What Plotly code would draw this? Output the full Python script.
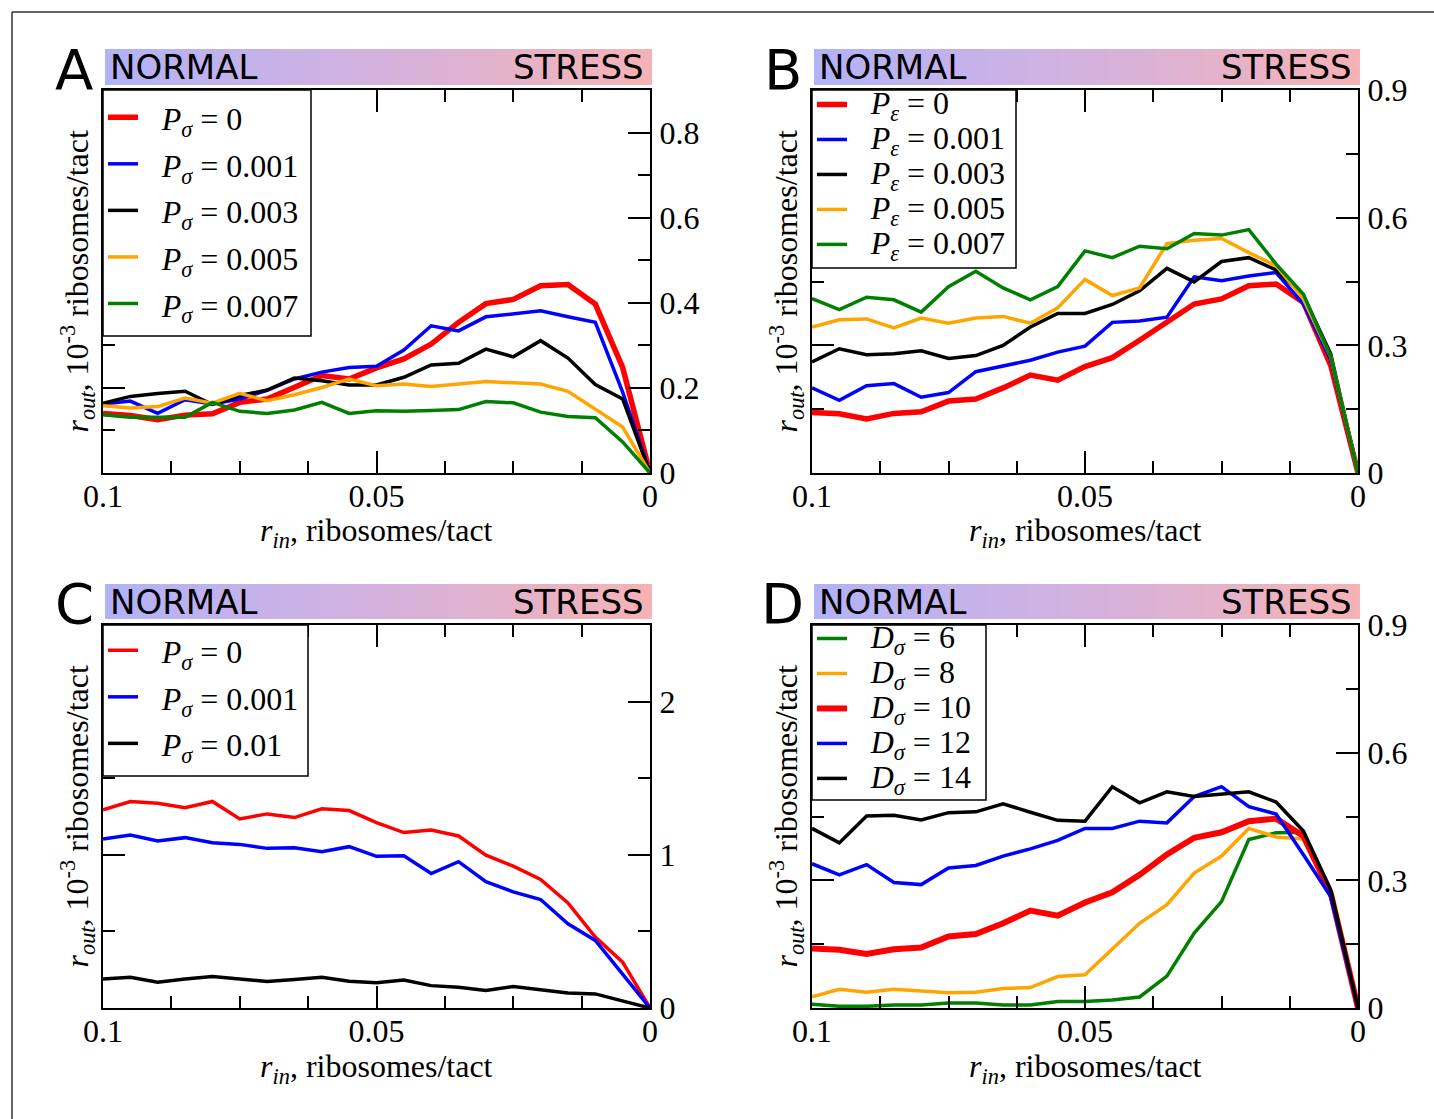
import plotly.graph_objects as go

# ---------------- data ----------------
R_IN = [0.100, 0.095, 0.090, 0.085, 0.080, 0.075, 0.070, 0.065, 0.060, 0.055, 0.050,
        0.045, 0.040, 0.035, 0.030, 0.025, 0.020, 0.015, 0.010, 0.005, 0.000]

A_LABELS = ["0", "0.001", "0.003", "0.005", "0.007"]
A_red = [0.140, 0.135, 0.125, 0.136, 0.139, 0.166, 0.174, 0.200, 0.229, 0.221, 0.247,
         0.268, 0.303, 0.354, 0.398, 0.408, 0.440, 0.443, 0.397, 0.248, 0.0]
A_blue = [0.162, 0.169, 0.140, 0.172, 0.162, 0.174, 0.194, 0.221, 0.237, 0.248, 0.251,
          0.289, 0.346, 0.334, 0.367, 0.375, 0.381, 0.367, 0.354, 0.190, 0.0]
A_black = [0.164, 0.180, 0.187, 0.192, 0.161, 0.182, 0.195, 0.223, 0.217, 0.207, 0.207,
           0.225, 0.254, 0.258, 0.291, 0.273, 0.311, 0.270, 0.208, 0.174, 0.0]
A_orange = [0.158, 0.153, 0.156, 0.176, 0.164, 0.187, 0.170, 0.184, 0.201, 0.221, 0.205,
            0.209, 0.203, 0.209, 0.215, 0.212, 0.209, 0.192, 0.151, 0.108, 0.0]
A_green = [0.137, 0.131, 0.131, 0.131, 0.166, 0.145, 0.140, 0.148, 0.166, 0.140, 0.146,
           0.145, 0.147, 0.149, 0.168, 0.165, 0.143, 0.133, 0.130, 0.073, 0.0]

B_LABELS = ["0", "0.001", "0.003", "0.005", "0.007"]
B_red = [0.142, 0.139, 0.127, 0.140, 0.144, 0.169, 0.174, 0.200, 0.230, 0.218, 0.250,
         0.271, 0.312, 0.354, 0.397, 0.409, 0.440, 0.444, 0.401, 0.253, 0.0]
B_blue = [0.200, 0.171, 0.205, 0.210, 0.178, 0.189, 0.238, 0.252, 0.265, 0.284, 0.298,
          0.354, 0.357, 0.366, 0.461, 0.452, 0.463, 0.471, 0.397, 0.266, 0.0]
B_black = [0.261, 0.292, 0.278, 0.280, 0.287, 0.269, 0.276, 0.300, 0.343, 0.375, 0.375,
           0.396, 0.428, 0.481, 0.449, 0.497, 0.506, 0.477, 0.417, 0.280, 0.0]
B_orange = [0.343, 0.360, 0.362, 0.341, 0.364, 0.352, 0.364, 0.368, 0.352, 0.388, 0.455,
            0.417, 0.435, 0.539, 0.547, 0.551, 0.518, 0.487, 0.409, 0.273, 0.0]
B_green = [0.410, 0.384, 0.413, 0.407, 0.378, 0.438, 0.474, 0.435, 0.407, 0.438, 0.522,
           0.506, 0.533, 0.527, 0.563, 0.559, 0.572, 0.491, 0.420, 0.273, 0.0]

C_LABELS = ["0", "0.001", "0.01"]
C_red = [1.293, 1.348, 1.337, 1.308, 1.348, 1.234, 1.267, 1.243, 1.300, 1.289, 1.210,
         1.145, 1.162, 1.123, 0.998, 0.926, 0.839, 0.686, 0.463, 0.299, 0.0]
C_blue = [1.103, 1.129, 1.090, 1.112, 1.079, 1.068, 1.042, 1.046, 1.020, 1.053, 0.990,
          0.994, 0.878, 0.955, 0.824, 0.758, 0.708, 0.550, 0.441, 0.223, 0.0]
C_black = [0.190, 0.201, 0.168, 0.190, 0.205, 0.190, 0.173, 0.186, 0.201, 0.175, 0.165,
           0.183, 0.146, 0.135, 0.114, 0.140, 0.118, 0.098, 0.092, 0.048, 0.0]

D_LABELS = ["6", "8", "10", "12", "14"]
D_green = [0.009, 0.004, 0.004, 0.007, 0.007, 0.012, 0.012, 0.007, 0.007, 0.015, 0.015,
           0.019, 0.026, 0.075, 0.176, 0.250, 0.396, 0.412, 0.413, 0.270, 0.0]
D_orange = [0.026, 0.044, 0.037, 0.044, 0.040, 0.036, 0.037, 0.046, 0.048, 0.074, 0.078,
            0.138, 0.199, 0.243, 0.317, 0.357, 0.422, 0.402, 0.397, 0.270, 0.0]
D_red = [0.140, 0.137, 0.127, 0.138, 0.142, 0.168, 0.174, 0.199, 0.229, 0.217, 0.248,
         0.272, 0.313, 0.361, 0.400, 0.413, 0.439, 0.445, 0.404, 0.270, 0.0]
D_blue = [0.339, 0.313, 0.337, 0.295, 0.290, 0.329, 0.335, 0.357, 0.374, 0.394, 0.422,
          0.422, 0.439, 0.435, 0.497, 0.520, 0.473, 0.456, 0.360, 0.262, 0.0]
D_black = [0.422, 0.388, 0.451, 0.453, 0.442, 0.459, 0.461, 0.480, 0.460, 0.441, 0.439,
           0.520, 0.482, 0.508, 0.497, 0.502, 0.508, 0.484, 0.416, 0.278, 0.0]

X_TICKS = [0.1, 0.05, 0.0]
X_TICKTEXT = ["0.1", "0.05", "0"]

# ---------------- styling ----------------
W, H = 1434, 1119
SERIF = "Liberation Serif"
SANS = "DejaVu Sans"
RED, BLUE, BLACK, ORANGE, GREEN = "#ff0000", "#0000ff", "#000000", "#ffa500", "#008000"


def px(x):
    return x / W


def py(y):
    return 1 - y / H


# plot boxes in pixels: (left, right, top, bottom)
BOX = {
    "A": (103, 650, 90, 473),
    "B": (812, 1358, 90, 473),
    "C": (103, 650, 625, 1008),
    "D": (812, 1358, 625, 1008),
}
BAR = {
    "A": (105, 652, 49, 85),
    "B": (814, 1360, 49, 85),
    "C": (105, 652, 584, 619),
    "D": (814, 1360, 584, 619),
}
# legend frames (left, right, top, bottom) and legend layout (top y, row font size)
LEGBOX = {
    "A": (103, 311, 90, 336),
    "B": (812, 1016, 90, 268),
    "C": (103, 308, 625, 776),
    "D": (812, 986, 625, 800),
}
LEGPOS = {
    "legend": ("A", 89, 33.5),
    "legend2": ("B", 82, 24.6),
    "legend3": ("C", 622, 33.5),
    "legend4": ("D", 616, 24.6),
}

fig = go.Figure()

NB = "\u00a0\u00a0\u200a"


def leg_text(sym, sub, val):
    return ('<span style="font-size:32px">%s<i>%s</i><sub><i>%s</i></sub> = %s</span>'
            % (NB, sym, sub, val))


panels = [
    ("A", 1, "legend", "P", "σ", A_LABELS,
     [(A_red, RED, 5.5), (A_blue, BLUE, 3.5), (A_black, BLACK, 3.5),
      (A_orange, ORANGE, 3.5), (A_green, GREEN, 3.5)]),
    ("B", 2, "legend2", "P", "ε", B_LABELS,
     [(B_red, RED, 5.5), (B_blue, BLUE, 3.5), (B_black, BLACK, 3.5),
      (B_orange, ORANGE, 3.5), (B_green, GREEN, 3.5)]),
    ("C", 3, "legend3", "P", "σ", C_LABELS,
     [(C_red, RED, 3.5), (C_blue, BLUE, 3.5), (C_black, BLACK, 3.5)]),
    ("D", 4, "legend4", "D", "σ", D_LABELS,
     [(D_green, GREEN, 3.5), (D_orange, ORANGE, 3.5), (D_red, RED, 6),
      (D_blue, BLUE, 3.5), (D_black, BLACK, 3.5)]),
]

for key, n, leg, sym, sub, labels, series in panels:
    xa = "x" if n == 1 else "x%d" % n
    ya = "y" if n == 1 else "y%d" % n
    for (vals, col, lw), lab in zip(series, labels):
        fig.add_trace(go.Scatter(
            x=R_IN, y=vals, mode="lines", xaxis=xa, yaxis=ya,
            line=dict(color=col, width=lw),
            name=leg_text(sym, sub, lab), legend=leg, showlegend=True,
            hoverinfo="skip"))

# gradient bars (heatmaps on helper axes)
GRAD = [[0, "rgb(178,178,248)"], [0.5, "rgb(212,178,222)"], [1, "rgb(246,178,180)"]]
NG = 101
gx = [i / (NG - 1) for i in range(NG)]
for k, key in enumerate(["A", "B", "C", "D"]):
    n = 5 + k
    fig.add_trace(go.Heatmap(
        z=[gx], x=gx, y=[0], xaxis="x%d" % n, yaxis="y%d" % n,
        colorscale=GRAD, showscale=False, zsmooth="best", hoverinfo="skip"))

layout = dict(
    template="none",
    width=W, height=H, autosize=False,
    margin=dict(l=0, r=0, t=0, b=0, pad=0, autoexpand=False),
    paper_bgcolor="white", plot_bgcolor="white",
    font=dict(family=SERIF, size=32, color="black"),
)

YCFG = {
    "A": dict(range=[0, 0.9], dtick=0.2, minor=0.1),
    "B": dict(range=[0, 0.9], dtick=0.3, minor=0.15),
    "C": dict(range=[0, 2.5], dtick=1, minor=0.5),
    "D": dict(range=[0, 0.9], dtick=0.3, minor=0.15),
}

for n, key in enumerate(["A", "B", "C", "D"], start=1):
    l, r, t, b = BOX[key]
    sx = "" if n == 1 else str(n)
    layout["xaxis" + sx] = dict(
        domain=[px(l), px(r)], range=[0.1, 0.0], anchor="y" + sx, automargin=False,
        tickvals=X_TICKS, ticktext=X_TICKTEXT, ticklabelstandoff=-6,
        ticks="inside", ticklen=22, tickwidth=2, tickcolor="black",
        showline=True, linewidth=2, linecolor="black", mirror="allticks",
        minor=dict(dtick=0.0125, tick0=0, ticks="inside", ticklen=12,
                   tickwidth=2, tickcolor="black", showgrid=False),
        showgrid=False, zeroline=False, fixedrange=True,
        tickfont=dict(family=SERIF, size=32, color="black"))
    yc = YCFG[key]
    layout["yaxis" + sx] = dict(
        domain=[py(b), py(t)], range=yc["range"], anchor="x" + sx, side="right",
        automargin=False, tick0=0, dtick=yc["dtick"], ticklabelstandoff=1,
        ticks="inside", ticklen=22, tickwidth=2, tickcolor="black",
        showline=True, linewidth=2, linecolor="black", mirror="allticks",
        minor=dict(dtick=yc["minor"], tick0=0, ticks="inside", ticklen=12,
                   tickwidth=2, tickcolor="black", showgrid=False),
        showgrid=False, zeroline=False, fixedrange=True,
        tickfont=dict(family=SERIF, size=32, color="black"))
    # gradient bar axes
    gl, gr, gt, gb = BAR[key]
    m = 4 + n
    layout["xaxis%d" % m] = dict(domain=[px(gl), px(gr)], range=[0, 1], visible=False,
                                 anchor="y%d" % m, fixedrange=True, automargin=False)
    layout["yaxis%d" % m] = dict(domain=[py(gb), py(gt)], range=[-0.5, 0.5], visible=False,
                                 anchor="x%d" % m, fixedrange=True, automargin=False)

# legends (transparent, framed by shapes below)
for name, (key, ytop, fs) in LEGPOS.items():
    l, r, t, b = LEGBOX[key]
    layout[name] = dict(
        x=px(l), y=py(ytop), xanchor="left", yanchor="top",
        bgcolor="rgba(0,0,0,0)", borderwidth=0,
        font=dict(family=SERIF, size=fs, color="black"),
        itemwidth=30, tracegroupgap=0, traceorder="normal")

annotations = []
shapes = []
for key in ["A", "B", "C", "D"]:
    l, r, t, b = BOX[key]
    gl, gr, gt, gb = BAR[key]
    cy = (gt + gb) / 2
    annotations.append(dict(text=key, x=px(gl - 31), y=py(cy + 2), xref="paper", yref="paper",
                            showarrow=False, xanchor="center", yanchor="middle",
                            font=dict(family=SANS, size=56, color="black")))
    annotations.append(dict(text="NORMAL", x=px(gl + 3), y=py(cy), xref="paper", yref="paper",
                            showarrow=False, xanchor="left", yanchor="middle",
                            font=dict(family=SANS, size=34, color="black")))
    annotations.append(dict(text="STRESS", x=px(gr - 6), y=py(cy), xref="paper", yref="paper",
                            showarrow=False, xanchor="right", yanchor="middle",
                            font=dict(family=SANS, size=34, color="black")))
    # axis titles
    annotations.append(dict(text="<i>r</i><sub><i>in</i></sub>, ribosomes/tact",
                            x=px((l + r) / 2), y=py(b + 60), xref="paper", yref="paper",
                            showarrow=False, xanchor="center", yanchor="middle",
                            font=dict(family=SERIF, size=32, color="black")))
    annotations.append(dict(text="<i>r</i><sub><i>out</i></sub>, 10<sup>-3</sup> ribosomes/tact",
                            x=px(l - 26), y=py((t + b) / 2), xref="paper", yref="paper",
                            showarrow=False, xanchor="center", yanchor="middle", textangle=-90,
                            font=dict(family=SERIF, size=32, color="black")))
    # legend frame
    ll, lr, lt, lb = LEGBOX[key]
    shapes.append(dict(type="rect", xref="paper", yref="paper",
                       x0=px(ll), x1=px(lr), y0=py(lb), y1=py(lt), layer="above",
                       fillcolor="white", line=dict(color="black", width=1.5)))

# outer frame lines
shapes.append(dict(type="line", xref="paper", yref="paper", x0=px(12), x1=1.0, y0=py(12), y1=py(12),
                   line=dict(color="#333333", width=1.5)))
shapes.append(dict(type="line", xref="paper", yref="paper", x0=px(12), x1=px(12), y0=py(12), y1=0.0,
                   line=dict(color="#333333", width=1.5)))

layout["annotations"] = annotations
layout["shapes"] = shapes
fig.update_layout(**layout)

fig.write_html("out.html", config={"displayModeBar": False},
               post_script="document.body.style.margin='0';")
